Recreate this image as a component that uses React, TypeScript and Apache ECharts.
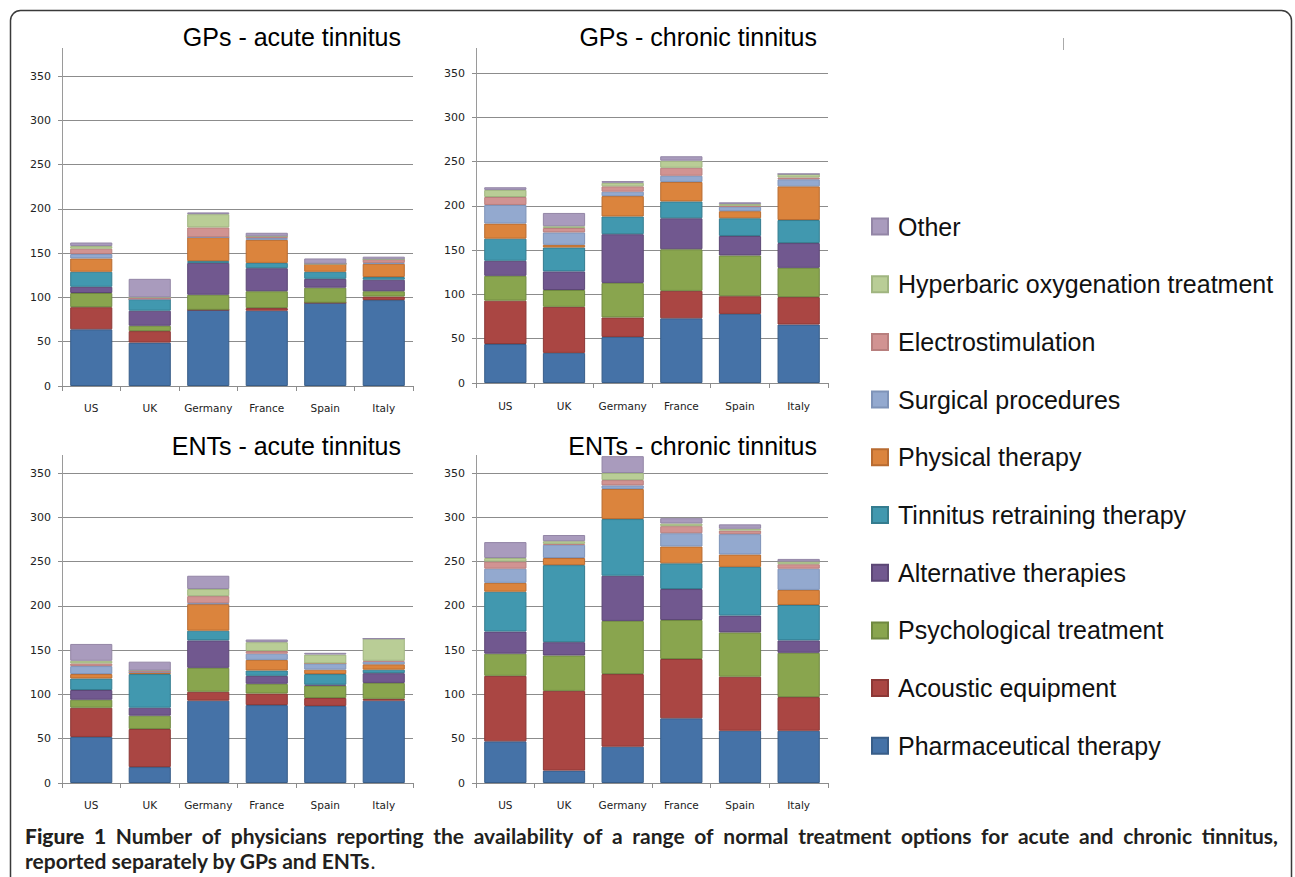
import React, { useEffect, useRef } from "react";
import * as echarts from "echarts";

const countries = ["US", "UK", "Germany", "France", "Spain", "Italy"];
const treatments = [
  "Pharmaceutical therapy",
  "Acoustic equipment",
  "Psychological treatment",
  "Alternative therapies",
  "Tinnitus retraining therapy",
  "Physical therapy",
  "Surgical procedures",
  "Electrostimulation",
  "Hyperbaric oxygenation treatment",
  "Other",
];
const yTicks = [0, 50, 100, 150, 200, 250, 300, 350];

// rows: treatments (same order as above), columns: countries
const gpAcute = [
  [64, 49, 86, 85, 94, 97],
  [25, 13, 0, 3, 0, 4],
  [16, 6, 17, 19, 17, 6],
  [7, 17, 36, 26, 10, 13],
  [17, 13, 2, 6, 8, 3],
  [15, 0, 27, 26, 9, 15],
  [5, 0, 0, 2, 0, 1],
  [6, 2, 11, 2, 0, 4],
  [3, 0, 15, 0, 0, 0],
  [4, 21, 2, 4, 6, 3],
];
const gpChronic = [
  [44, 34, 52, 73, 78, 66],
  [49, 52, 22, 31, 20, 31],
  [28, 19, 39, 47, 46, 33],
  [17, 21, 55, 35, 22, 28],
  [25, 27, 20, 19, 20, 26],
  [17, 3, 23, 22, 8, 38],
  [21, 14, 5, 7, 5, 8],
  [9, 5, 6, 9, 1, 2],
  [8, 2, 4, 8, 2, 4],
  [3, 15, 2, 5, 2, 0],
];
const entAcute = [
  [52, 18, 93, 88, 87, 93],
  [33, 43, 10, 13, 9, 2],
  [9, 15, 27, 11, 14, 18],
  [11, 9, 31, 9, 1, 11],
  [13, 38, 11, 6, 12, 4],
  [5, 2, 30, 12, 5, 6],
  [9, 0, 1, 7, 7, 3],
  [3, 2, 8, 3, 0, 1],
  [3, 0, 8, 10, 10, 25],
  [19, 10, 15, 3, 2, 0],
];
const entChronic = [
  [47, 14, 41, 73, 59, 59],
  [74, 90, 82, 67, 61, 38],
  [25, 40, 60, 44, 50, 50],
  [25, 15, 51, 35, 19, 14],
  [45, 87, 64, 29, 55, 40],
  [10, 8, 34, 19, 14, 17],
  [16, 15, 4, 15, 23, 24],
  [8, 1, 6, 8, 4, 5],
  [4, 3, 8, 3, 2, 3],
  [18, 7, 19, 6, 5, 3],
];
const panelTitles = [
  "GPs - acute tinnitus",
  "GPs - chronic tinnitus",
  "ENTs - acute tinnitus",
  "ENTs - chronic tinnitus",
];
const captionLead = "Figure 1";
const captionLine1 =
  "Number of physicians reporting the availability of a range of normal treatment options for acute and chronic tinnitus,";
const captionLine2 = "reported separately by GPs and ENTs";

const fills = ["#4572A7", "#AA4643", "#89A54E", "#71588F", "#4198AF", "#DB843D", "#93A9CF", "#D19392", "#B9CD96", "#A99BBD"];
const borders = ["#385D88", "#8C3836", "#6F8840", "#5C4775", "#347C8F", "#B86B30", "#7E93B8", "#B87F7E", "#A0B580", "#9386A6"];

export default function App() {
  const ref = useRef<HTMLDivElement>(null);
  useEffect(() => {
    if (!ref.current) return;
    const chart = echarts.init(ref.current, null, { renderer: "svg" });
    const panels = [gpAcute, gpChronic, entAcute, entChronic];
    const grids = [
      { left: 62, top: 76, width: 351, height: 310 },
      { left: 476, top: 73, width: 352, height: 310 },
      { left: 62, top: 473, width: 351, height: 310 },
      { left: 476, top: 473, width: 352, height: 310 },
    ];
    const titlePos = [
      [401, 37],
      [817, 37],
      [401, 446],
      [817, 446],
    ];
    const axisTops = [48, 48, 455, 455];
    const series: any[] = [];
    panels.forEach((p, pi) => {
      p.forEach((row, ti) => {
        series.push({
          type: "bar",
          name: treatments[ti],
          xAxisIndex: pi,
          yAxisIndex: pi,
          stack: "s" + pi,
          barCategoryGap: "28%",
          clip: false,
          data: row,
          itemStyle: { color: fills[ti], borderColor: borders[ti], borderWidth: 1 },
          emphasis: { disabled: true },
        });
      });
    });
    const graphic: any[] = [
      {
        type: "rect",
        shape: { x: 10.5, y: 10.5, width: 1281, height: 920, r: 10 },
        style: { fill: "none", stroke: "#3a3a3a", lineWidth: 1.5 },
        silent: true,
      },
      {
        type: "line",
        shape: { x1: 1063.5, y1: 38, x2: 1063.5, y2: 50 },
        style: { stroke: "#aaa", lineWidth: 1 },
      },
    ];
    grids.forEach((g, i) => {
      graphic.push({
        type: "line",
        shape: { x1: g.left + 0.5, y1: axisTops[i], x2: g.left + 0.5, y2: g.top },
        style: { stroke: "#9a9a9a", lineWidth: 1 },
        z: -1,
      });
      graphic.push({
        type: "text",
        x: titlePos[i][0],
        y: titlePos[i][1],
        style: {
          text: panelTitles[i],
          font: "25px 'Liberation Sans', Arial, sans-serif",
          fill: "#000",
          textAlign: "right",
          textVerticalAlign: "middle",
        },
      });
    });

    // caption: first line justified across the frame width
    const capFamily = "Lato, 'Open Sans', sans-serif";
    const capSize = 21;
    const fontB = `900 ${capSize}px ${capFamily}`;
    const fontS = `bold ${capSize}px ${capFamily}`;
    const ctx = document.createElement("canvas").getContext("2d");
    const measure = (t: string, f: string) => {
      if (!ctx) return t.length * capSize * 0.5;
      ctx.font = f;
      return ctx.measureText(t).width;
    };
    const leadWords = captionLead.split(" ");
    const restWords = captionLine1.split(" ");
    const words = [
      ...leadWords.map((w) => ({ w, s: "b" })),
      ...restWords.map((w) => ({ w, s: "s" })),
    ];
    const total = words.reduce((acc, x) => acc + measure(x.w, x.s === "b" ? fontB : fontS), 0);
    const lineWidth = 1253;
    const gap = Math.max(4, (lineWidth - total) / (words.length - 1));
    const line1 = words.map((x) => `{${x.s}|${x.w}}`).join("{g| }");
    const rich: any = {
      b: { fontFamily: capFamily, fontSize: capSize, lineHeight: 25, fontWeight: 900, fill: "#231f20" },
      s: { fontFamily: capFamily, fontSize: capSize, lineHeight: 25, fontWeight: "bold", fill: "#231f20" },
      r: { fontFamily: capFamily, fontSize: capSize, lineHeight: 25, fontWeight: "normal", fill: "#231f20" },
      g: { fontFamily: capFamily, fontSize: capSize, lineHeight: 25, width: gap, fill: "#231f20" },
    };
    graphic.push({
      type: "text",
      x: 25,
      y: 848,
      style: {
        text: `${line1}\n{s|${captionLine2}}{r|.}`,
        textVerticalAlign: "middle",
        rich,
        font: fontS,
        lineHeight: 25,
        fill: "#231f20",
      },
    });

    chart.setOption({
      animation: false,
      backgroundColor: "#fff",
      grid: grids,
      xAxis: grids.map((_, i) => ({
        type: "category",
        gridIndex: i,
        data: countries,
        axisLine: { lineStyle: { color: "#8c8c8c" } },
        axisTick: { show: true, length: 5, lineStyle: { color: "#8c8c8c" } },
        axisLabel: {
          interval: 0,
          fontFamily: "'DejaVu Sans', sans-serif",
          fontSize: 10.5,
          color: "#222",
          margin: i === 1 ? 17 : 16,
        },
      })),
      yAxis: grids.map((_, i) => ({
        type: "value",
        gridIndex: i,
        min: yTicks[0],
        max: yTicks[yTicks.length - 1],
        interval: 50,
        axisLine: { show: true, lineStyle: { color: "#9a9a9a" } },
        axisTick: { show: true, length: 4, lineStyle: { color: "#8c8c8c" } },
        splitLine: { show: true, lineStyle: { color: "#8c8c8c", width: 1 } },
        axisLabel: { fontFamily: "'DejaVu Sans', sans-serif", fontSize: 11, color: "#222", margin: 11 },
      })),
      legend: {
        orient: "vertical",
        left: 871,
        top: 214,
        padding: 0,
        icon: "rect",
        itemWidth: 16,
        itemHeight: 16,
        itemGap: 32.7,
        data: treatments.slice().reverse(),
        textStyle: { fontFamily: "'Liberation Sans', Arial, sans-serif", fontSize: 25, color: "#111", padding: [0, 0, 0, 5] },
        selectedMode: false,
      },
      series,
      graphic,
    });
    return () => chart.dispose();
  }, []);
  return (
    <div
      ref={ref}
      style={{ position: "fixed", left: 0, top: 0, width: 1295, height: 877, background: "#fff" }}
    />
  );
}
